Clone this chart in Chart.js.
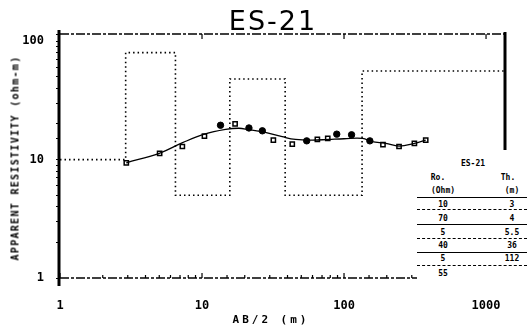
<!DOCTYPE html>
<html>
<head>
<meta charset="utf-8">
<script src="https://cdn.jsdelivr.net/npm/chart.js@4/dist/chart.umd.min.js"></script>
<style>
  body { margin: 0; background: #fff; }
  #wrap { position: relative; width: 527px; height: 328px; overflow: hidden; }
  .txt { position: absolute; color: #000; font-family: "DejaVu Sans Mono", monospace; font-weight: bold; white-space: nowrap; transform: translate(-50%, -50%); }
  #title { left: 273px; top: 20px; font-family: "DejaVu Sans", sans-serif; font-weight: normal; font-size: 27px; letter-spacing: 2px; }
  #ytitle { left: 15px; top: 158px; font-size: 10px; letter-spacing: 1.3px; transform: translate(-50%, -50%) rotate(-90deg); }
  #xtitle { left: 271px; top: 319px; font-size: 11px; letter-spacing: 3px; }
  #table { position: absolute; left: 417px; top: 150px; width: 110px; height: 132px; background: #fff; }
  #table .txt { font-size: 8px; }
  #table .ln { position: absolute; left: 0; width: 110px; height: 0; border-top: 1.5px solid #000; }
  #table .ln.d { border-top-style: dashed; }
</style>
</head>
<body>
<div id="wrap">
  <canvas id="chart" width="527" height="328"></canvas>
  <div class="txt" id="title">ES-21</div>
  <div class="txt" id="ytitle">APPARENT RESISTIVITY (ohm-m)</div>
  <div class="txt" id="xtitle">AB/2 (m)</div>
  <div id="table"></div>
</div>
<script>
// field points, open squares
const squareAB = [2.93, 5.03, 7.27, 10.4, 17.1, 31.8, 43.2, 64.9, 76.8, 188, 244, 313, 376];
const squareRho = [9.4, 11.3, 12.9, 15.8, 20.0, 14.6, 13.5, 14.8, 15.1, 13.4, 12.9, 13.7, 14.6];
// field points, filled dots
const dotAB = [13.5, 21.4, 26.6, 54.6, 88.9, 113, 152];
const dotRho = [19.5, 18.5, 17.5, 14.4, 16.4, 16.2, 14.4];
// fitted curve
const curveAB = [2.93, 5.0, 7.3, 10.4, 14.7, 18.2, 21.4, 26.6, 36.7, 45.5, 60, 78, 100, 135, 157, 197, 244, 313, 376];
const curveRho = [9.4, 11.3, 13.9, 16.4, 18.0, 18.4, 17.9, 17.2, 15.6, 14.8, 14.6, 14.8, 15.0, 15.1, 14.2, 13.7, 13.0, 13.7, 14.6];
// layer model (step line): depth where each layer starts, resistivity
const layerTop = [1, 2.9, 6.5, 15.7, 38.5, 134];
const layerRho = [10, 80, 5, 48, 5, 56];
const xMax = 1360;
// table text
const tableRo = ['10', '70', '5', '40', '5', '55'];
const tableTh = ['3', '4', '5.5', '36', '112'];

const xTickLabels = [1, 10, 100, 1000];
const yTickLabels = [1, 10, 100];

function toPts(xs, ys) {
    return xs.map(function(x, i) { return { x: x, y: ys[i] }; });
}

const modelPts = toPts(layerTop, layerRho);
modelPts.push({ x: xMax, y: layerRho[layerRho.length - 1] });

// table
const table = document.getElementById('table');
function addText(txt, x, y) {
    const d = document.createElement('div');
    d.className = 'txt';
    d.textContent = txt;
    d.style.left = x + 'px';
    d.style.top = y + 'px';
    table.appendChild(d);
}
function addLine(y, dashed) {
    const d = document.createElement('div');
    d.className = dashed ? 'ln d' : 'ln';
    d.style.top = y + 'px';
    table.appendChild(d);
}
addText('ES-21', 56, 13);
addText('Ro.', 21, 27);
addText('Th.', 91, 27);
addText('(Ohm)', 26, 40);
addText('(m)', 95, 40);
addLine(47, false);
const rowY = [54, 68, 82, 95, 108, 123];
const lineY = [59, 74, 88, 102, 115];
tableRo.forEach(function(v, i) {
    addText(v, 26, rowY[i]);
    if (tableTh[i]) addText(tableTh[i], 95, rowY[i]);
    if (lineY[i]) addLine(lineY[i], i % 2 === 0);
});

const frame = {
    id: 'frame',
    afterDraw: function(chart) {
        const c = chart.ctx;
        const a = chart.chartArea;
        const xs = chart.scales.x;
        c.save();
        c.strokeStyle = '#000';
        // left axis, thick
        c.lineWidth = 3;
        c.beginPath();
        c.moveTo(a.left - 1, a.top - 4);
        c.lineTo(a.left - 1, a.bottom + 8);
        c.stroke();
        // right edge
        c.beginPath();
        c.moveTo(a.right, a.top - 2);
        c.lineTo(a.right, a.bottom);
        c.stroke();
        // top and bottom, broken lines
        c.lineWidth = 1.5;
        c.setLineDash([9, 2, 3, 2]);
        c.beginPath();
        c.moveTo(a.left, a.top);
        c.lineTo(a.right, a.top);
        c.moveTo(a.left, a.bottom);
        c.lineTo(a.right, a.bottom);
        c.stroke();
        c.setLineDash([]);
        // tick marks on the x axis
        c.lineWidth = 1.2;
        c.beginPath();
        xs.ticks.forEach(function(t) {
            const px = xs.getPixelForValue(t.value);
            const major = xTickLabels.indexOf(t.value) >= 0;
            c.moveTo(px, a.bottom);
            c.lineTo(px, a.bottom - (major ? 5 : 3));
            if (major && t.value > 1) {
                c.moveTo(px, a.top);
                c.lineTo(px, a.top + 5);
            }
        });
        c.stroke();
        c.restore();
    }
};

const tickFont = { family: 'DejaVu Sans Mono', size: 12, weight: 'bold' };

new Chart(document.getElementById('chart'), {
    type: 'scatter',
    data: {
        datasets: [{
            type: 'line',
            data: modelPts,
            stepped: true,
            borderColor: '#000',
            borderWidth: 1.6,
            borderDash: [1.5, 3],
            pointRadius: 0,
            fill: false
        }, {
            type: 'line',
            data: toPts(curveAB, curveRho),
            borderColor: '#000',
            borderWidth: 1.3,
            tension: 0.4,
            pointRadius: 0,
            fill: false
        }, {
            data: toPts(squareAB, squareRho),
            pointStyle: 'rect',
            pointRadius: 3,
            backgroundColor: '#fff',
            borderColor: '#000',
            borderWidth: 1.5
        }, {
            data: toPts(dotAB, dotRho),
            pointStyle: 'circle',
            pointRadius: 3.2,
            backgroundColor: '#000',
            borderColor: '#000',
            borderWidth: 1
        }]
    },
    options: {
        responsive: false,
        animation: false,
        layout: { padding: { left: 0, right: 22, top: 34, bottom: 0 } },
        plugins: {
            legend: { display: false },
            tooltip: { enabled: false }
        },
        scales: {
            x: {
                type: 'logarithmic',
                min: 1,
                max: xMax,
                afterFit: function(s) { s.height = 50; },
                border: { display: false },
                grid: { display: false },
                ticks: {
                    autoSkip: false,
                    maxRotation: 0,
                    padding: 13,
                    color: '#000',
                    font: tickFont,
                    callback: function(v) { return xTickLabels.indexOf(v) >= 0 ? String(v) : ''; }
                }
            },
            y: {
                type: 'logarithmic',
                min: 1,
                max: 115,
                afterFit: function(s) { s.width = 60; },
                border: { display: false },
                grid: { drawOnChartArea: false, drawTicks: true, tickLength: 4, color: '#000', lineWidth: 1 },
                ticks: {
                    autoSkip: false,
                    padding: 12,
                    color: '#000',
                    font: tickFont,
                    callback: function(v) { return yTickLabels.indexOf(v) >= 0 ? String(v) : ''; }
                }
            }
        }
    },
    plugins: [frame]
});
</script>
</body>
</html>
